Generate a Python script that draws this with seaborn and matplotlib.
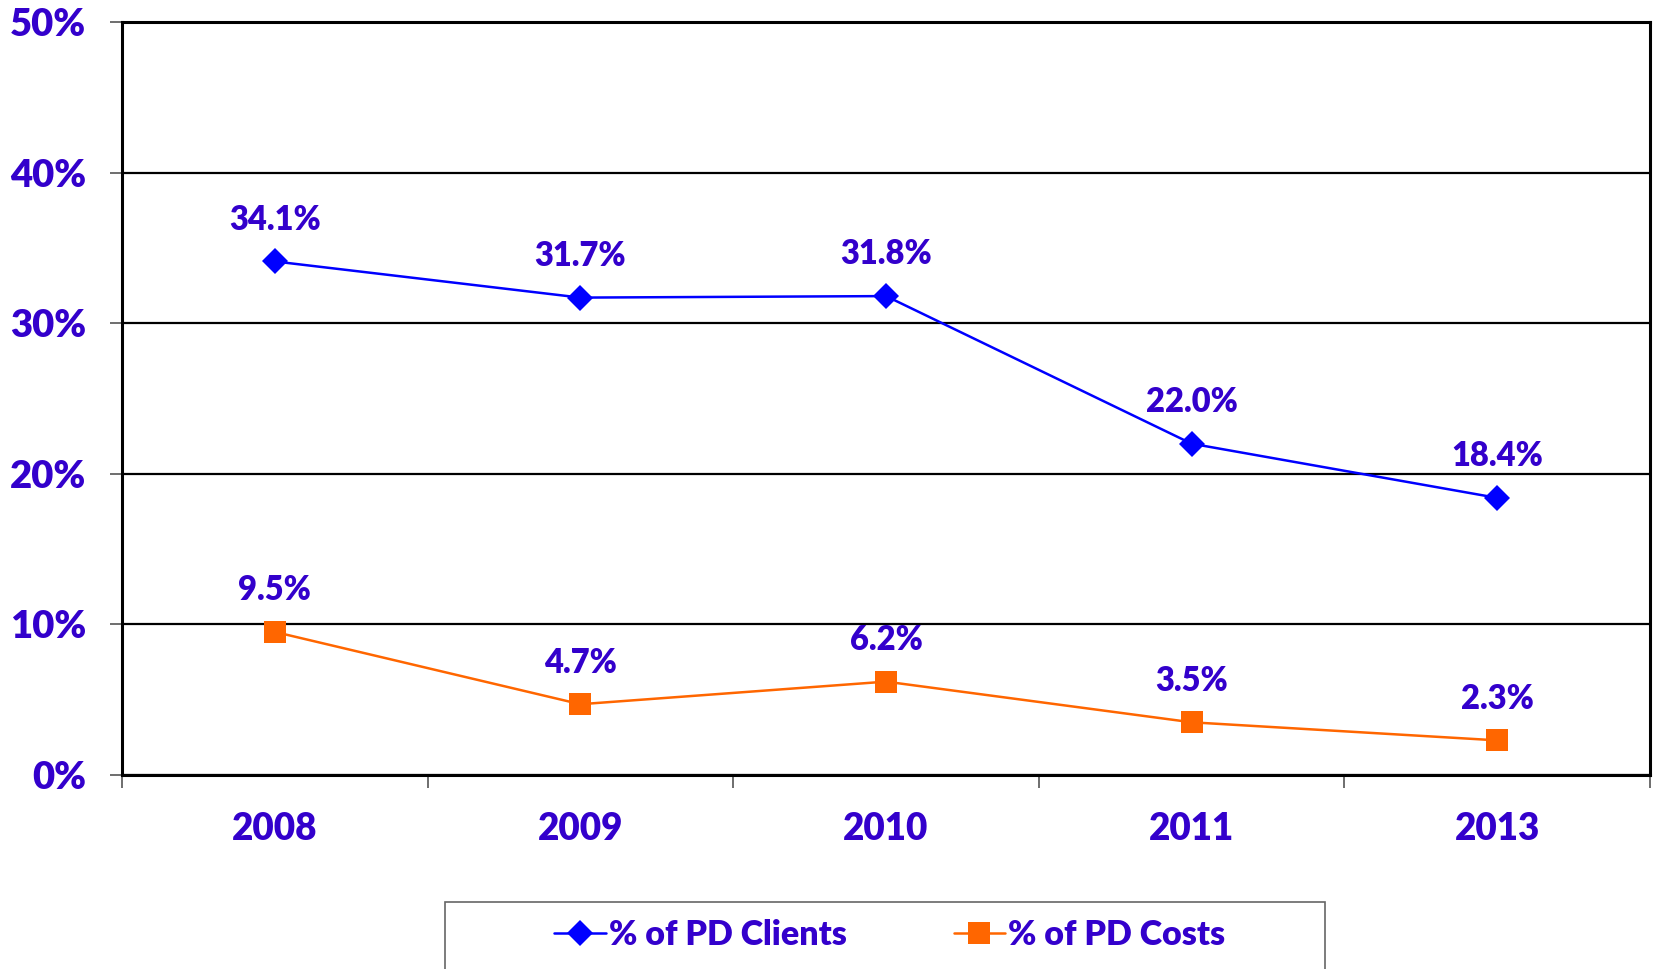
import matplotlib
matplotlib.use("Agg")
import matplotlib.pyplot as plt
import seaborn as sns
import pandas as pd
import numpy as np
from matplotlib.ticker import FixedLocator, PercentFormatter
from matplotlib.patches import Rectangle
from matplotlib.lines import Line2D

years = ["2008", "2009", "2010", "2011", "2013"]
pd_clients = [34.1, 31.7, 31.8, 22.0, 18.4]
pd_costs = [9.5, 4.7, 6.2, 3.5, 2.3]
series_names = ["% of PD Clients", "% of PD Costs"]

sns.set_theme(style="white")
plt.rcParams['font.family'] = ['Lato', 'DejaVu Sans']
plt.rcParams['font.weight'] = 'bold'

W = "heavy"
TEXT = "#3300CC"
BLUE = "#0000FF"
ORANGE = "#FF6600"

pos = list(range(len(years)))
df = pd.DataFrame({
    "pos": pos * 2,
    "value": pd_clients + pd_costs,
    "series": [series_names[0]] * len(years) + [series_names[1]] * len(years),
})

fig = plt.figure(figsize=(16.53, 9.69), dpi=100)
ax = fig.add_axes([122/1653, 194/969, (1650-122)/1653, (775-22)/969])

sns.lineplot(data=df[df.series == series_names[0]], x="pos", y="value", ax=ax,
             color=BLUE, marker="D", markersize=13, linewidth=1.8,
             markeredgewidth=0, legend=False)
sns.lineplot(data=df[df.series == series_names[1]], x="pos", y="value", ax=ax,
             color=ORANGE, marker="s", markersize=16.5, linewidth=1.8,
             markeredgewidth=0, legend=False)

for vals in (pd_clients, pd_costs):
    for x, v in zip(pos, vals):
        ax.annotate(f"{v:.1f}%", (x, v), xytext=(0, 30), textcoords="offset points",
                    ha="center", va="center", fontsize=23.5, fontweight=W, color=TEXT)

ax.set_xlim(-0.5, len(years) - 0.5)
ax.set_ylim(0, 50)
ax.set_xlabel("")
ax.set_ylabel("")

# y axis
ax.yaxis.set_major_locator(FixedLocator([0, 10, 20, 30, 40, 50]))
ax.yaxis.set_major_formatter(PercentFormatter(decimals=0))
ax.tick_params(axis="y", which="major", left=True, length=9, width=1.2, color="#555555",
               pad=17, labelsize=27.5, labelcolor=TEXT)
for lab in ax.get_yticklabels():
    lab.set_fontweight(W)

# x axis: tick marks at boundaries, labels at centers
ax.xaxis.set_major_locator(FixedLocator(np.arange(-0.5, len(years), 1.0)))
ax.xaxis.set_minor_locator(FixedLocator(pos))
ax.set_xticklabels([""] * (len(years) + 1))
ax.set_xticklabels(years, minor=True)
ax.tick_params(axis="x", which="major", bottom=True, length=9, width=1.2, color="#555555")
ax.tick_params(axis="x", which="minor", bottom=True, length=0, pad=27,
               labelsize=26.5, labelcolor=TEXT)
for lab in ax.get_xticklabels(minor=True):
    lab.set_fontweight(W)

ax.yaxis.grid(True, color="black", linewidth=1.6)
ax.xaxis.grid(False)
for s in ax.spines.values():
    s.set_visible(True)
    s.set_color("black")
    s.set_linewidth(2.2)

# legend box
fig.patches.append(Rectangle((445/1653, -0.05), (1325-445)/1653, 0.05 + (969-902)/969,
                             transform=fig.transFigure, facecolor="white",
                             edgecolor="#666666", linewidth=1.2))
handles = [
    Line2D([], [], color=BLUE, marker="D", markersize=13, linewidth=1.8, markeredgewidth=0),
    Line2D([], [], color=ORANGE, marker="s", markersize=16.5, linewidth=1.8, markeredgewidth=0),
]
leg = fig.legend(handles, series_names, loc="center", bbox_to_anchor=(890/1653, 1 - 935/969),
                 ncol=2, frameon=False, handlelength=1.5, handletextpad=0.1,
                 columnspacing=3.15, labelcolor=TEXT, prop={"weight": W, "size": 24.5})

fig.savefig("out.png", dpi=100)
